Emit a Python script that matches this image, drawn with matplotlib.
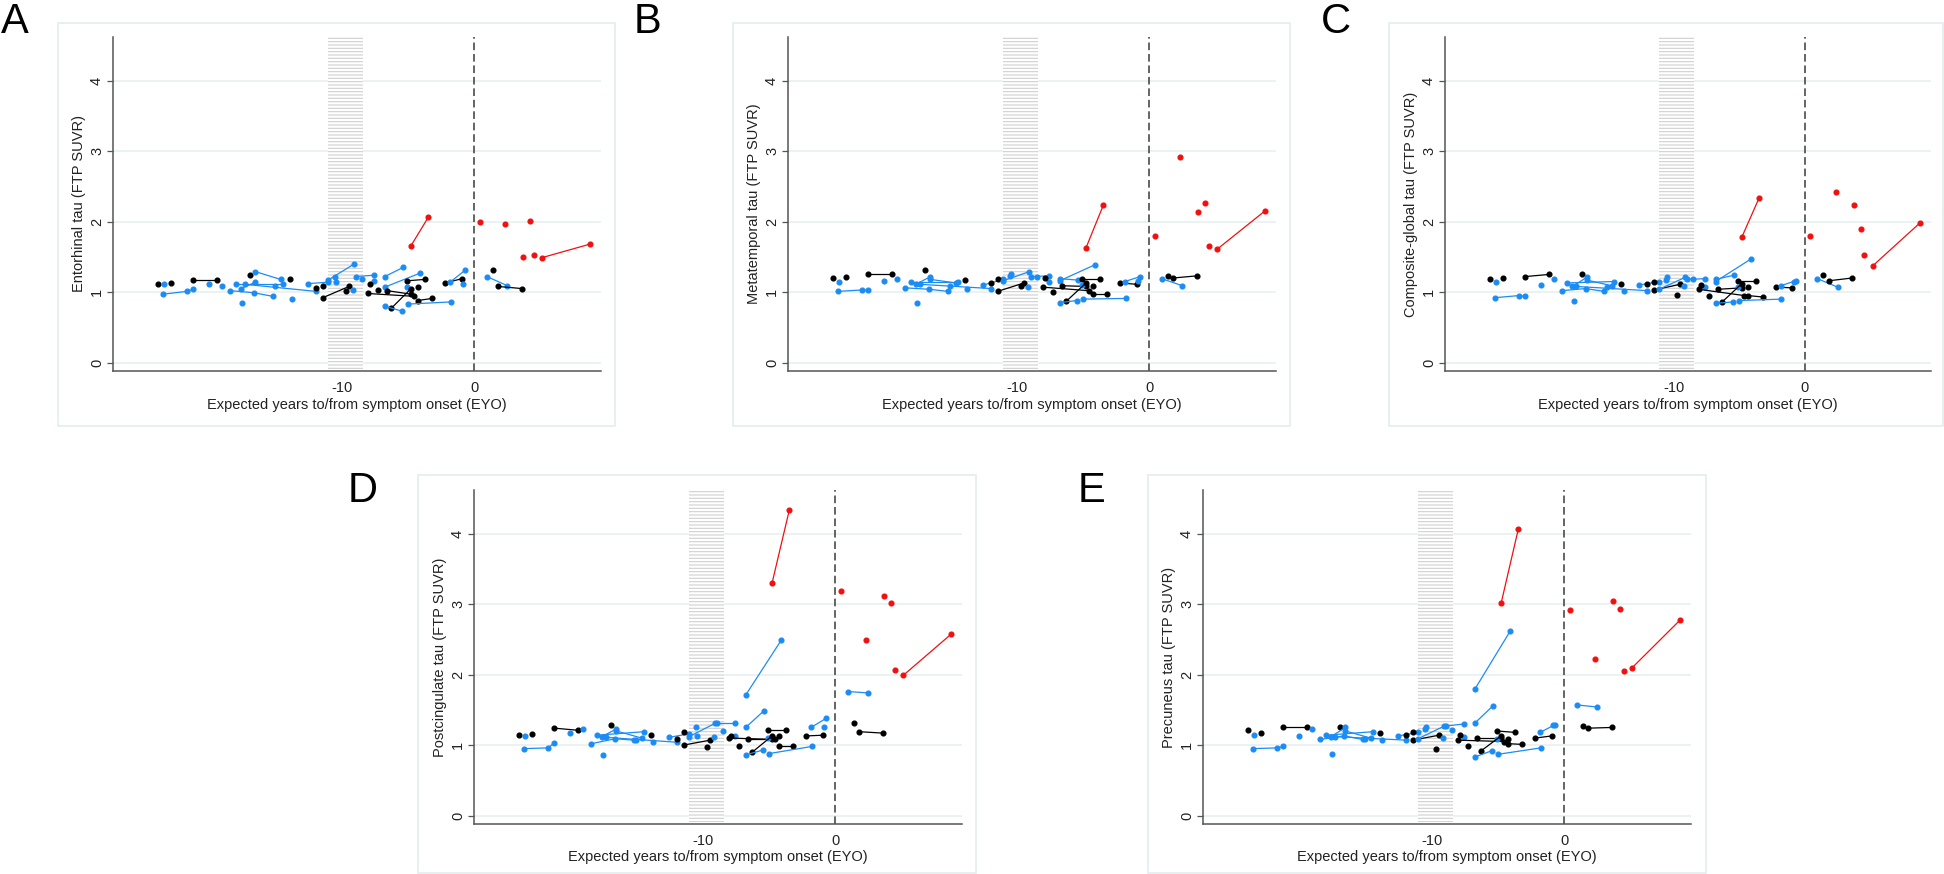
import matplotlib
matplotlib.use("Agg")
import matplotlib.pyplot as plt
from matplotlib.patches import Rectangle

plt.rcParams['font.family'] = ['Liberation Sans', 'DejaVu Sans']
plt.rcParams['hatch.linewidth'] = 0.8

# one entry per participant: group, EYO at each visit, SUVR per region at each visit
group = ["black", "blue", "black", "blue", "black", "blue", "blue", "blue", "blue", "black",
         "blue", "blue", "blue", "blue", "blue", "black", "blue", "blue", "black", "black",
         "black", "black", "blue", "blue", "blue", "blue", "blue", "blue", "blue", "black",
         "black", "blue", "blue", "black", "black", "black", "blue", "black", "black", "black",
         "blue", "blue", "black", "blue", "blue", "black", "blue", "black", "red", "red",
         "red", "red", "red", "red", "red"]

eyo = [(-24.0,), (-23.5,), (-23.0,), (-23.6, -21.8, -21.3), (-21.3, -19.5),
       (-20.1,), (-19.1,), (-18.5, -16.7, -15.3), (-17.6,), (-17.0,),
       (-16.6, -14.7), (-18.1, -14.5), (-17.7, -16.6), (-17.4, -12.0), (-15.1,),
       (-14.0,), (-13.8,), (-12.6, -11.1), (-12.0,), (-11.5,),
       (-11.5, -9.5), (-9.75,), (-9.2,), (-11.1, -9.1), (-10.6,),
       (-10.5,), (-9.0, -7.6), (-8.5,), (-7.6,), (-7.9,),
       (-7.3,), (-6.8, -5.4), (-6.8, -4.1), (-5.1, -3.75), (-8.1, -4.6),
       (-6.6, -4.8), (-5.1,), (-6.3, -4.8), (-4.3,), (-4.3, -3.2),
       (-6.8, -5.5), (-5.0, -1.8), (-2.2, -0.95), (-1.85, -0.7), (-0.85,),
       (1.4,), (0.95, 2.5), (1.8, 3.6), (-4.8, -3.5), (0.4,),
       (2.35,), (3.7,), (4.25,), (4.5,), (5.15, 8.75)]

entorhinal = [(1.11,), (1.12,), (1.13,), (0.97, 1.01, 1.04), (1.17, 1.17),
              (1.12,), (1.09,), (1.02, 0.99, 0.94), (0.84,), (1.24,),
              (1.29, 1.18), (1.12, 1.12), (1.05, 1.14), (1.11, 1.01), (1.09,),
              (1.19,), (0.90,), (1.12, 1.14), (1.06,), (1.09,),
              (0.92, 1.08), (1.01,), (1.03,), (1.17, 1.40), (1.21,),
              (1.14,), (1.22, 1.24), (1.19,), (1.16,), (1.12,),
              (1.03,), (1.22, 1.35), (1.07, 1.27), (1.16, 1.18), (0.98, 0.94),
              (1.02, 0.97), (1.07,), (0.77, 1.05), (1.07,), (0.88, 0.91),
              (0.80, 0.73), (0.83, 0.86), (1.13, 1.19), (1.14, 1.31), (1.11,),
              (1.31,), (1.22, 1.09), (1.08, 1.05), (1.66, 2.06), (2.00,),
              (1.97,), (1.50,), (2.01,), (1.53,), (1.49, 1.68)]

metatemporal = [(1.20,), (1.14,), (1.21,), (1.01, 1.03, 1.03), (1.26, 1.26),
                (1.16,), (1.19,), (1.06, 1.04, 1.01), (0.85,), (1.31,),
                (1.18, 1.13), (1.15, 1.15), (1.11, 1.22), (1.11, 1.05), (1.09,),
                (1.17,), (1.05,), (1.10, 1.18), (1.13,), (1.18,),
                (1.01, 1.13), (1.09,), (1.07,), (1.16, 1.29), (1.23,),
                (1.26,), (1.22, 1.23), (1.21,), (1.15,), (1.20,),
                (1.00,), (1.19, 1.17), (1.16, 1.39), (1.18, 1.18), (1.07, 1.02),
                (1.09, 1.08), (1.10,), (0.87, 1.13), (1.09,), (0.97, 0.97),
                (0.85, 0.88), (0.90, 0.91), (1.13, 1.11), (1.15, 1.22), (1.16,),
                (1.23,), (1.19, 1.09), (1.20, 1.23), (1.63, 2.23), (1.80,),
                (2.91,), (2.13,), (2.26,), (1.65,), (1.61, 2.15)]

composite = [(1.18,), (1.14,), (1.20,), (0.92, 0.95, 0.94), (1.22, 1.25),
             (1.10,), (1.18,), (1.02, 1.05, 1.01), (0.88,), (1.25,),
             (1.17, 1.09), (1.13, 1.15), (1.08, 1.21), (1.08, 1.02), (1.07,),
             (1.12,), (1.02,), (1.10, 1.15), (1.11,), (1.14,),
             (1.03, 1.11), (0.96,), (1.08,), (1.04, 1.21), (1.17,),
             (1.21,), (1.18, 1.19), (1.18,), (1.07,), (1.10,),
             (0.95,), (1.18, 1.24), (1.15, 1.47), (1.16, 1.16), (1.04, 0.95),
             (1.04, 1.06), (1.07,), (0.86, 1.12), (1.07,), (0.95, 0.93),
             (0.84, 0.86), (0.88, 0.90), (1.07, 1.06), (1.09, 1.16), (1.15,),
             (1.24,), (1.19, 1.07), (1.16, 1.20), (1.78, 2.33), (1.79,),
             (2.42,), (2.23,), (1.89,), (1.52,), (1.37, 1.98)]

postcingulate = [(1.15,), (1.13,), (1.16,), (0.95, 0.96, 1.03), (1.24, 1.21),
                 (1.17,), (1.23,), (1.02, 1.09, 1.07), (0.86,), (1.28,),
                 (1.20, 1.10), (1.14, 1.19), (1.12, 1.23), (1.11, 1.04), (1.07,),
                 (1.14,), (1.05,), (1.11, 1.16), (1.09,), (1.18,),
                 (1.00, 1.07), (0.97,), (1.11,), (1.12, 1.31), (1.25,),
                 (1.13,), (1.31, 1.31), (1.20,), (1.13,), (1.13,),
                 (0.99,), (1.25, 1.49), (1.71, 2.49), (1.22, 1.22), (1.10, 1.08),
                 (1.09, 1.09), (1.10,), (0.90, 1.13), (1.13,), (0.98, 0.98),
                 (0.86, 0.93), (0.88, 0.98), (1.13, 1.14), (1.25, 1.38), (1.25,),
                 (1.31,), (1.76, 1.74), (1.19, 1.17), (3.30, 4.33), (3.18,),
                 (2.49,), (3.11,), (3.01,), (2.06,), (1.99, 2.57)]

precuneus = [(1.21,), (1.15,), (1.17,), (0.95, 0.96, 0.98), (1.25, 1.25),
             (1.13,), (1.23,), (1.08, 1.13, 1.08), (0.88,), (1.25,),
             (1.20, 1.10), (1.14, 1.19), (1.12, 1.25), (1.12, 1.07), (1.08,),
             (1.17,), (1.07,), (1.13, 1.18), (1.14,), (1.18,),
             (1.07, 1.14), (0.95,), (1.10,), (1.09, 1.27), (1.23,),
             (1.25,), (1.27, 1.30), (1.22,), (1.11,), (1.14,),
             (0.98,), (1.31, 1.56), (1.79, 2.62), (1.20, 1.18), (1.07, 1.05),
             (1.10, 1.10), (1.08,), (0.92, 1.13), (1.08,), (1.02, 1.01),
             (0.83, 0.92), (0.87, 0.96), (1.10, 1.13), (1.18, 1.29), (1.28,),
             (1.27,), (1.57, 1.54), (1.24, 1.25), (3.01, 4.06), (2.92,),
             (2.22,), (3.04,), (2.93,), (2.05,), (2.10, 2.77)]

letters = ["A", "B", "C", "D", "E"]
ylabels = ["Entorhinal tau (FTP SUVR)", "Metatemporal tau (FTP SUVR)",
           "Composite-global tau (FTP SUVR)", "Postcingulate tau (FTP SUVR)",
           "Precuneus tau (FTP SUVR)"]
regions = [entorhinal, metatemporal, composite, postcingulate, precuneus]
band = (-11.1, -8.45)  # shaded EYO window

colors = {"blue": "#1c8cf5", "black": "black", "red": "#f01010"}

W, H = 1944, 874
# pixel layouts: axes (left, top, right, bottom), outer box, letter position
axes_px = [(113, 37, 601, 371), (788, 37, 1276, 371), (1445, 37, 1931, 371),
           (474, 490, 962, 824), (1203, 490, 1691, 824)]
box_px = [(58, 23, 615, 426), (733, 23, 1290, 426), (1389, 23, 1943, 426),
          (418, 475, 976, 873), (1148, 475, 1706, 873)]
letter_px = [(1, 33), (634, 33), (1321, 33), (348, 502), (1078, 502)]

fig = plt.figure(figsize=(W / 100, H / 100), dpi=100)

for k in range(5):
    l, t, r, b = axes_px[k]
    ax = fig.add_axes([l / W, 1 - b / H, (r - l) / W, (b - t) / H])

    bl, bt, br, bb = box_px[k]
    fig.patches.append(Rectangle((bl / W, 1 - bb / H), (br - bl) / W, (bb - bt) / H,
                                 transform=fig.transFigure, fill=False,
                                 edgecolor="#e4ecee", lw=1.2))
    fig.text(letter_px[k][0] / W, 1 - letter_px[k][1] / H, letters[k],
             fontsize=30, ha="left", va="baseline")

    ax.set_xlim(-27.4, 9.6)
    ax.set_ylim(-0.12, 4.62)
    for yv in range(5):
        ax.axhline(yv, color="#e6eff1", lw=1.1, zorder=0)
    ax.axvspan(band[0], band[1], ymin=0.006, ymax=1, facecolor="white",
               edgecolor="#d0d0d0", hatch="-----", lw=0, zorder=0.5)
    dl = ax.axvline(0, color="#3a3a3a", lw=1.1, zorder=1)
    dl.set_dashes([5, 2.5])

    vals = regions[k]
    for i in range(len(eyo)):
        c = colors[group[i]]
        ax.plot(eyo[i], vals[i], "-o", color=c, lw=0.9, ms=3.4,
                mec=c, mfc=c, zorder=3, clip_on=False)

    ax.spines["top"].set_visible(False)
    ax.spines["right"].set_visible(False)
    ax.spines["left"].set_color("#555555")
    ax.spines["bottom"].set_color("#555555")
    ax.spines["left"].set_linewidth(1.1)
    ax.spines["bottom"].set_linewidth(1.1)

    ax.set_yticks([0, 1, 2, 3, 4])
    ax.set_xticks([-10, 0])
    ax.set_xticklabels(["-10", "0"])
    ax.tick_params(axis="y", length=4.5, width=0.9, color="#555555",
                   labelsize=10.5, labelrotation=90, pad=2, labelcolor="#222222")
    ax.tick_params(axis="x", length=0, labelsize=10.5, pad=7, labelcolor="#222222")
    for lab in ax.get_yticklabels():
        lab.set_va("center")
    ax.set_xlabel("Expected years to/from symptom onset (EYO)", fontsize=10.5,
                  labelpad=2, color="#222222")
    ax.set_ylabel(ylabels[k], fontsize=10.5, labelpad=3, color="#222222")
    ax.set_facecolor("none")

fig.savefig("out.png", dpi=100, facecolor="white")
